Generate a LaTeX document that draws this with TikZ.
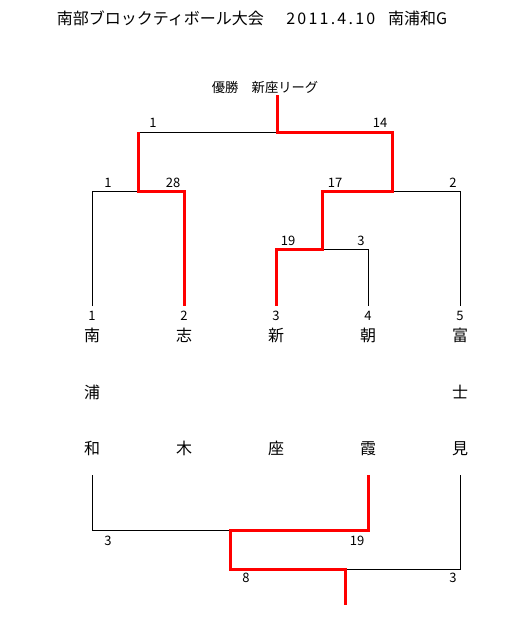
\documentclass[tikz,border=0pt]{standalone}
\usepackage{fontspec}
\setmainfont{Noto Sans CJK JP}
\usetikzlibrary{positioning}
\tikzset{
  win/.style={draw=red, line width=3pt},
  lose/.style={draw=black, line width=1pt},
  score/.style={font=\fontsize{13}{13}\selectfont, inner sep=0pt},
  team/.style={font=\fontsize{16}{56.5}\selectfont, align=center, inner sep=0pt, anchor=north},
  headline/.style={font=\fontsize{16}{16}\selectfont, inner sep=0pt},
  champion/.style={font=\fontsize{13.3}{13.3}\selectfont, inner sep=0pt}
}

\begin{document}
\begin{tikzpicture}[x=1pt, y=-1pt]
  \useasboundingbox[fill=white] (0,0) rectangle (507,642);
  % heading
  \node[headline] (title) at (252,18) {南部ブロックティボール大会\hspace{1.4em}{\addfontfeatures{LetterSpace=14}2011.4.10}\hspace{0.8em}南浦和G};
  \node[champion] (champtext) at (265,87) {優勝　新座リーグ};

  % teams
  \foreach \i/\x/\name in {1/92/{南\\浦\\和}, 2/184/{志\\\mbox{}\\木}, 3/276/{新\\\mbox{}\\座}, 4/368/{朝\\\mbox{}\\霞}, 5/460/{富\\士\\見}} {
    \coordinate (t\i) at (\x,306);
    \coordinate (u\i) at (\x,475);
    \node[score] (n\i) at (\x,316) {\i};
    \node[team] (team\i) at (\x,328) {\name};
  }

  % joints
  \coordinate (champ) at (277,95);
  \coordinate (fin) at (277,132);
  \coordinate (q12) at (138,191);
  \coordinate (s345) at (392,191);
  \coordinate (q34) at (322,249);
  \coordinate (l14) at (230,530);
  \coordinate (l145) at (345,569);
  \coordinate (lend) at (345,605);

  % losing lines
  \draw[lose] (t1) |- (q12);
  \draw[lose] (q34) -| (t4);
  \draw[lose] (s345) -| (t5);
  \draw[lose] (q12 |- fin) -- (fin);
  \draw[lose] (u1) |- (l14);
  \draw[lose] (u5) |- (l145);
  % winning lines
  \draw[win] (champ) -- (fin) -| (s345) -| (q34) -| (t3);
  \draw[win] (q12 |- fin) -- (q12) -| (t2);
  \draw[win] (u4) |- (l14) |- (l145) -- (lend);

  % scores
  \node[score] (fa) at (153,123) {1};
  \node[score] (fb) at (380,123) {14};
  \node[score] (qa) at (108,183) {1};
  \node[score] (qb) at (173,183) {28};
  \node[score] (sa) at (335,183) {17};
  \node[score] (sb) at (453,183) {2};
  \node[score] (pa) at (288,241) {19};
  \node[score] (pb) at (361,241) {3};
  \node[score] (la) at (108,541) {3};
  \node[score] (lb) at (357,541) {19};
  \node[score] (lc) at (246,578) {8};
  \node[score] (ld) at (453,578) {3};
\end{tikzpicture}
\end{document}
